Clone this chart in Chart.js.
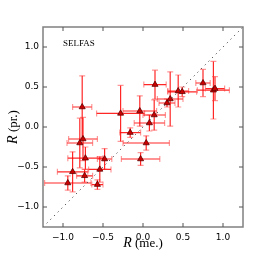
<!DOCTYPE html>
<html>
<head>
<meta charset="utf-8">
<script src="https://cdn.jsdelivr.net/npm/chart.js@4.4.1/dist/chart.umd.min.js"></script>
<style>
  html, body { margin: 0; padding: 0; background: #fff; }
  #wrap { width: 269px; height: 269px; }
</style>
</head>
<body>
<div id="wrap"><canvas id="myChart" width="269" height="269"></canvas></div>
<script>
// Data
const xVals = [-0.94, -0.88, -0.79, -0.76, -0.75, -0.72, -0.73, -0.57, -0.54, -0.48, -0.28, -0.16, -0.04, 0.04, -0.03, 0.08, 0.14, 0.15, 0.30, 0.34, 0.44, 0.49, 0.75, 0.88, 0.90];
const yVals = [-0.70, -0.56, -0.20, 0.25, -0.15, -0.39, -0.61, -0.72, -0.53, -0.40, 0.17, -0.07, 0.20, -0.20, -0.40, 0.05, 0.15, 0.53, 0.30, 0.35, 0.45, 0.44, 0.55, 0.46, 0.48];
const xErr = [0.29, 0.19, 0.16, 0.12, 0.18, 0.22, 0.10, 0.07, 0.14, 0.09, 0.30, 0.13, 0.21, 0.29, 0.24, 0.19, 0.14, 0.14, 0.10, 0.16, 0.13, 0.18, 0.09, 0.20, 0.12];
const yErr = [0.09, 0.25, 0.31, 0.39, 0.27, 0.14, 0.08, 0.06, 0.16, 0.13, 0.35, 0.06, 0.19, 0.09, 0.08, 0.10, 0.19, 0.18, 0.05, 0.34, 0.20, 0.06, 0.17, 0.36, 0.15];
const tickValues = [-1.0, -0.5, 0.0, 0.5, 1.0];
const axisMin = -1.25;
const axisMax = 1.25;

const points = xVals.map((x, i) => ({ x: x, y: yVals[i] }));

function fmtTick(v) {
  return v.toFixed(1).replace("-", "\u2212");
}

// error bars, drawn under the markers
const errorBars = {
  id: "errorBars",
  beforeDatasetsDraw(chart) {
    const { ctx, scales: { x, y } } = chart;
    const cap = 3;
    ctx.save();
    ctx.lineWidth = 1.2;
    for (let i = 0; i < xVals.length; i++) {
      const px = x.getPixelForValue(xVals[i]);
      const py = y.getPixelForValue(yVals[i]);
      const x0 = x.getPixelForValue(xVals[i] - xErr[i]);
      const x1 = x.getPixelForValue(xVals[i] + xErr[i]);
      const y0 = y.getPixelForValue(yVals[i] - yErr[i]);
      const y1 = y.getPixelForValue(yVals[i] + yErr[i]);
      ctx.strokeStyle = "rgba(255, 0, 0, 0.85)";
      ctx.beginPath();
      ctx.moveTo(x0, py); ctx.lineTo(x1, py);
      ctx.moveTo(px, y0); ctx.lineTo(px, y1);
      ctx.stroke();
      ctx.strokeStyle = "rgba(255, 50, 50, 0.5)";
      ctx.beginPath();
      ctx.moveTo(x0, py - cap); ctx.lineTo(x0, py + cap);
      ctx.moveTo(x1, py - cap); ctx.lineTo(x1, py + cap);
      ctx.moveTo(px - cap, y0); ctx.lineTo(px + cap, y0);
      ctx.moveTo(px - cap, y1); ctx.lineTo(px + cap, y1);
      ctx.stroke();
    }
    ctx.restore();
  },
};

// frame, inward ticks, label text and axis titles
const frame = {
  id: "frame",
  afterDraw(chart) {
    const { ctx, chartArea: a, scales: { x, y } } = chart;
    ctx.save();
    ctx.strokeStyle = "#808080";
    ctx.lineWidth = 1.5;
    ctx.strokeRect(a.left, a.top, a.right - a.left, a.bottom - a.top);

    ctx.strokeStyle = "#555";
    ctx.lineWidth = 1;
    ctx.beginPath();
    tickValues.forEach((v) => {
      const px = x.getPixelForValue(v);
      const py = y.getPixelForValue(v);
      ctx.moveTo(px, a.bottom); ctx.lineTo(px, a.bottom - 4);
      ctx.moveTo(px, a.top); ctx.lineTo(px, a.top + 4);
      ctx.moveTo(a.left, py); ctx.lineTo(a.left + 4, py);
      ctx.moveTo(a.right, py); ctx.lineTo(a.right - 4, py);
    });
    ctx.stroke();

    ctx.fillStyle = "#000";
    ctx.font = "9px 'Liberation Serif', serif";
    ctx.textBaseline = "middle";
    ctx.textAlign = "left";
    ctx.fillText("SELFAS", x.getPixelForValue(-1.0), y.getPixelForValue(1.04));

    // axis titles: italic R followed by roman text
    const italicR = "italic 14px 'Liberation Serif', serif";
    const roman = "13px 'Liberation Serif', serif";
    function mixedTitle(rest, cx, cy) {
      ctx.font = italicR;
      const wR = ctx.measureText("R").width;
      ctx.font = roman;
      const wRest = ctx.measureText(rest).width;
      const start = cx - (wR + wRest) / 2;
      ctx.textAlign = "left";
      ctx.textBaseline = "alphabetic";
      ctx.font = italicR;
      ctx.fillText("R", start, cy);
      ctx.font = roman;
      ctx.fillText(rest, start + wR, cy);
    }
    mixedTitle(" (me.)", (a.left + a.right) / 2, 247);
    ctx.translate(17, (a.top + a.bottom) / 2);
    ctx.rotate(-Math.PI / 2);
    mixedTitle(" (pr.)", 0, 0);
    ctx.restore();
  },
};

const ctx = document.getElementById("myChart").getContext("2d");
const myChart = new Chart(ctx, {
  type: "scatter",
  data: {
    datasets: [
      {
        label: "diag",
        type: "line",
        data: [{ x: axisMin, y: axisMin }, { x: axisMax, y: axisMax }],
        borderColor: "#444",
        borderWidth: 1,
        borderDash: [1.2, 4],
        pointRadius: 0,
        fill: false,
      },
      {
        label: "SELFAS",
        data: points,
        pointStyle: "triangle",
        pointRadius: 3.5,
        backgroundColor: "#cc0000",
        borderColor: "#600000",
        borderWidth: 0.8,
      },
    ],
  },
  options: {
    responsive: false,
    animation: false,
    layout: { padding: { top: 27, right: 26, left: 0, bottom: 0 } },
    plugins: {
      legend: { display: false },
      tooltip: { enabled: false },
    },
    scales: {
      x: {
        type: "linear",
        min: axisMin,
        max: axisMax,
        afterBuildTicks: (axis) => { axis.ticks = tickValues.map((v) => ({ value: v })); },
        afterFit: (axis) => { axis.height = 42; },
        grid: { display: false, drawTicks: false },
        border: { display: false },
        ticks: {
          padding: 5,
          color: "#000",
          font: { family: "DejaVu Sans", size: 9 },
          callback: (v) => fmtTick(v),
        },
      },
      y: {
        type: "linear",
        min: axisMin,
        max: axisMax,
        afterBuildTicks: (axis) => { axis.ticks = tickValues.map((v) => ({ value: v })); },
        afterFit: (axis) => { axis.width = 43; },
        grid: { display: false, drawTicks: false },
        border: { display: false },
        ticks: {
          padding: 4,
          color: "#000",
          font: { family: "DejaVu Sans", size: 9 },
          callback: (v) => fmtTick(v),
        },
      },
    },
  },
  plugins: [errorBars, frame],
});
</script>
</body>
</html>
